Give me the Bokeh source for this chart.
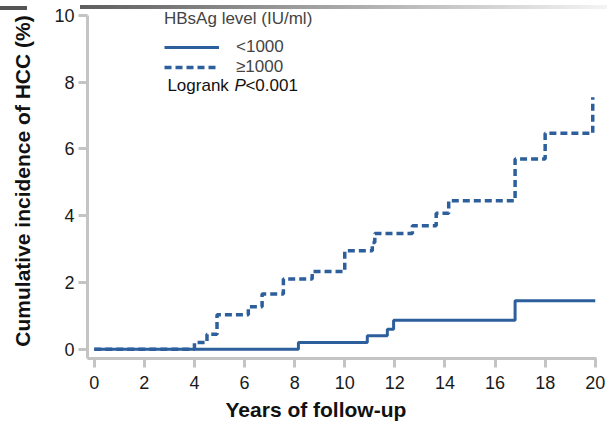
from bokeh.plotting import figure
from bokeh.models import Range1d, Legend, LegendItem, Label, FixedTicker, Title
from bokeh.embed import file_html
from bokeh.resources import INLINE

# Kaplan-Meier style cumulative incidence (%) by HBsAg level
low_years = [0, 8.15, 10.9, 11.7, 11.95, 16.8, 20.0]
low_incidence = [0, 0.2, 0.4, 0.6, 0.87, 1.45, 1.45]

high_years = [0, 4.0, 4.5, 4.9, 6.15, 6.7, 7.55, 8.7, 10.0, 11.1, 11.2,
              12.7, 13.65, 14.15, 16.8, 18.0, 19.9]
high_incidence = [0, 0.2, 0.45, 1.03, 1.27, 1.65, 2.1, 2.33, 2.95, 3.2, 3.47,
                  3.7, 4.07, 4.45, 5.7, 6.47, 7.55]

x_ticks = [0, 2, 4, 6, 8, 10, 12, 14, 16, 18, 20]
y_ticks = [0, 2, 4, 6, 8, 10]

FONT = "Liberation Sans"
BLUE = "#2d5f9d"
AXIS_GRAY = "#c4c4c4"

p = figure(width=607, height=428, output_backend="svg", toolbar_location=None,
           x_range=Range1d(-0.27, 20.05), y_range=Range1d(-0.28, 10.36),
           min_border_left=87, min_border_right=11, min_border_top=3,
           min_border_bottom=70)

p.outline_line_color = None
p.xgrid.visible = False
p.ygrid.visible = False
p.background_fill_alpha = 0
p.border_fill_alpha = 0
p.styles = {
    "background": (
        "linear-gradient(#555555, #555555) 0px 6px / 27px 4px no-repeat, "
        "linear-gradient(to right, #5e5e5e, #9a9a9a 40%, #f4f4f4) 80px 5px / 527px 4px no-repeat, "
        "#ffffff"
    )
}

r_high = p.step(high_years, high_incidence, mode="after", line_color=BLUE,
                line_width=3.5, line_dash="7 4")
r_low = p.step(low_years, low_incidence, mode="after", line_color=BLUE,
               line_width=3)

for ax in (p.xaxis[0], p.yaxis[0]):
    ax.axis_line_color = AXIS_GRAY
    ax.axis_line_width = 3
    ax.major_tick_line_color = AXIS_GRAY
    ax.major_tick_line_width = 3
    ax.major_tick_in = 0
    ax.major_tick_out = 9
    ax.minor_tick_line_color = None
    ax.major_label_text_font = FONT
    ax.major_label_text_font_size = "18px"
    ax.major_label_text_color = "#1a1a1a"
    ax.axis_label_text_font = FONT
    ax.axis_label_text_font_size = "21px"
    ax.axis_label_text_font_style = "bold"
    ax.axis_label_text_color = "#111111"

p.xaxis.ticker = FixedTicker(ticks=x_ticks)
p.yaxis.ticker = FixedTicker(ticks=y_ticks)
p.yaxis.bounds = (-0.28, 10)
p.yaxis.axis_label = "Cumulative incidence of HCC (%)"
p.xaxis.major_label_standoff = 8
p.yaxis.major_label_standoff = 4
p.yaxis.axis_label_standoff = 17

# x-axis title sits slightly left of the frame centre
p.add_layout(Title(text="Years of follow-up", align="left", offset=138,
                   text_font=FONT, text_font_size="21px",
                   text_font_style="bold", text_color="#111111",
                   standoff=9), "below")

legend = Legend(
    items=[LegendItem(label="<1000", renderers=[r_low]),
           LegendItem(label="\u22651000", renderers=[r_high])],
    title="HBsAg level (IU/ml)",
    location=(77, 281),
    glyph_width=55, glyph_height=20, label_height=20,
    label_standoff=17, spacing=0, padding=0, margin=0,
    title_standoff=8,
    label_text_font=FONT, label_text_font_size="17px",
    title_text_font=FONT, title_text_font_size="17px",
    title_text_font_style="normal",
    border_line_color=None, background_fill_alpha=0,
)
p.add_layout(legend)

# "Logrank P<0.001" with an italic P
logrank_parts = [("Logrank ", "normal", 0), ("P", "italic", 67), ("<0.001", "normal", 78)]
for txt, style, dx in logrank_parts:
    p.add_layout(Label(x=2.92, y=7.9, text=txt, x_offset=dx,
                       text_font=FONT, text_font_size="17px",
                       text_font_style=style, text_baseline="middle",
                       text_color="#111111"))

open("out.html", "w").write(file_html(p, INLINE))
